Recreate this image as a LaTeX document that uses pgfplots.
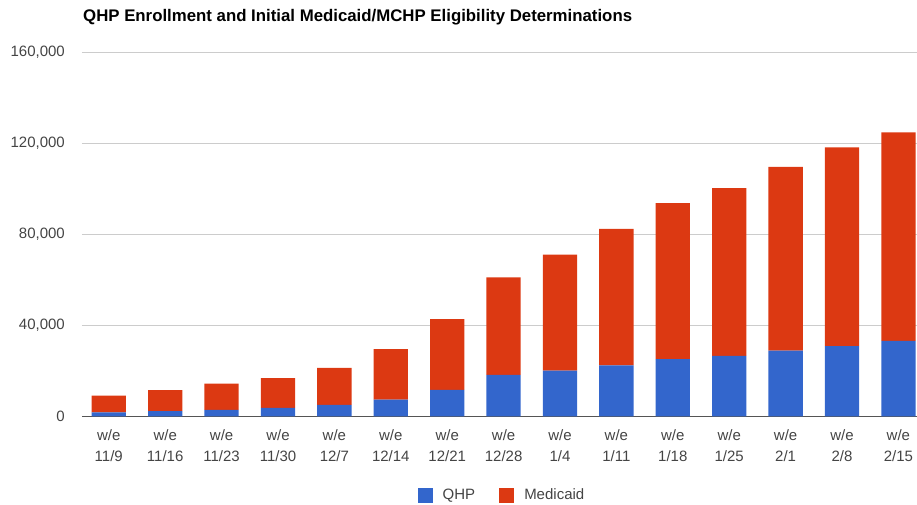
\documentclass[border=0pt]{standalone}
\usepackage{pgfplots}
\pgfplotsset{compat=1.18}
\usepackage{fontspec}
\setmainfont{Liberation Sans}
\definecolor{qhp}{HTML}{3366CC}
\definecolor{med}{HTML}{DC3912}
\definecolor{tickc}{HTML}{444444}
\definecolor{gridc}{HTML}{CCCCCC}
\definecolor{basec}{HTML}{555555}
\begin{document}
\begin{tikzpicture}
\path[use as bounding box] (-82pt,-88.5pt) rectangle (835pt,416.5pt);
\begin{axis}[
  at={(0pt,0pt)}, anchor=south west,
  scale only axis,
  width=835pt, height=364pt,
  ybar stacked,
  bar width=34.3pt,
  xmin=-0.475, xmax=14.33,
  ymin=0, ymax=160000,
  ytick={0,40000,80000,120000,160000},
  yticklabels={0,{40,000},{80,000},{120,000},{160,000}},
  scaled y ticks=false,
  xtick={0,...,14},
  xticklabels={w/e\\11/9,w/e\\11/16,w/e\\11/23,w/e\\11/30,w/e\\12/7,w/e\\12/14,w/e\\12/21,w/e\\12/28,w/e\\1/4,w/e\\1/11,w/e\\1/18,w/e\\1/25,w/e\\2/1,w/e\\2/8,w/e\\2/15},
  xticklabel style={align=center, anchor=north, inner sep=0pt, yshift=-12.5pt, font=\fontsize{15}{21}\selectfont, text=tickc},
  yticklabel style={anchor=east, inner sep=0pt, xshift=-17pt, font=\fontsize{15}{18}\selectfont, text=tickc},
  major tick length=0pt,
  xmajorgrids=false,
  ymajorgrids=true,
  grid style={draw=gridc, line width=1pt},
  axis line style={draw=none},
  legend columns=2,
  legend style={at={(0.503,-0.216)}, anchor=center, draw=none, fill=none,
    font=\fontsize{15}{18}\selectfont, text=tickc,
    /tikz/every odd column/.append style={column sep=8pt},
    /tikz/every even column/.append style={column sep=22pt}},
  legend image code/.code={\fill[#1] (0pt,-7.5pt) rectangle (15pt,7.5pt);},
]
\addplot[fill=qhp, draw=none] coordinates {
(0,1760) (1,2340) (2,2930) (3,3810) (4,5130) (5,7470) (6,11700) (7,18300)
(8,20200) (9,22500) (10,25200) (11,26700) (12,29000) (13,30900) (14,33260)};
\addlegendentry{QHP}
\addplot[fill=med, draw=none] coordinates {
(0,7470) (1,9230) (2,11570) (3,13040) (4,16270) (5,22130) (6,31100) (7,42800)
(8,50900) (9,60000) (10,68600) (11,73700) (12,80750) (13,87350) (14,91590)};
\addlegendentry{Medicaid}
\draw[basec, line width=1.5pt] (axis cs:-0.475,0) -- (axis cs:14.33,0);
\end{axis}
\node[anchor=west, font=\fontsize{16.8}{20}\selectfont\bfseries, text=black, inner sep=0pt] at (1pt,399pt) {QHP Enrollment and Initial Medicaid/MCHP Eligibility Determinations};
\end{tikzpicture}
\end{document}
